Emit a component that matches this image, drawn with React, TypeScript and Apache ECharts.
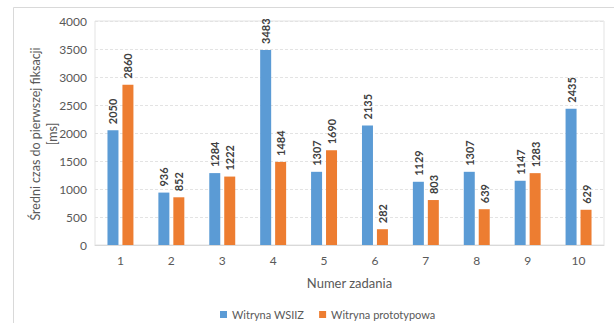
import React, { useEffect, useRef } from "react";
import * as echarts from "echarts";

const categories = ["1", "2", "3", "4", "5", "6", "7", "8", "9", "10"];
const wsiizValues = [2050, 936, 1284, 3483, 1307, 2135, 1129, 1307, 1147, 2435];
const prototypeValues = [2860, 852, 1222, 1484, 1690, 282, 803, 639, 1283, 629];
const seriesNames = ["Witryna WSIIZ", "Witryna prototypowa"];
const yTitle = "Średni czas do pierwszej fiksacji\n[ms]";
const xTitle = "Numer zadania";

const FONT = "Lato, 'Open Sans', sans-serif";

export default function App() {
  const ref = useRef<HTMLDivElement>(null);
  useEffect(() => {
    if (!ref.current) return;
    const chart = echarts.init(ref.current, undefined, { renderer: "svg" });
    const label = {
      show: true,
      position: "top",
      rotate: 90,
      align: "left",
      verticalAlign: "middle",
      distance: 6,
      fontSize: 11,
      fontWeight: "bold",
      color: "#404040",
      fontFamily: FONT,
    };
    chart.setOption({
      animation: false,
      backgroundColor: "#ffffff",
      textStyle: { fontFamily: FONT },
      graphic: [
        {
          type: "rect",
          shape: { x: 13.5, y: 7.5, width: 700, height: 400 },
          style: { fill: "none", stroke: "#d9d9d9", lineWidth: 1 },
          silent: true,
        },
        {
          type: "text",
          x: 44,
          y: 134,
          rotation: Math.PI / 2,
          style: {
            text: yTitle,
            fontSize: 12.5,
            lineHeight: 17,
            fill: "#595959",
            fontFamily: FONT,
            align: "center",
            verticalAlign: "middle",
          },
          silent: true,
        },
      ],
      grid: {
        left: 95,
        top: 21,
        right: 10,
        bottom: 78,
        show: true,
        borderColor: "#e3e3e3",
        borderWidth: 1,
      },
      legend: {
        left: 215,
        top: 304,
        itemWidth: 7,
        itemHeight: 7,
        itemGap: 15,
        icon: "rect",
        textStyle: { fontSize: 11, color: "#595959", fontFamily: FONT },
        data: seriesNames,
      },
      xAxis: {
        type: "category",
        data: categories,
        name: xTitle,
        nameLocation: "middle",
        nameGap: 31,
        nameTextStyle: { fontSize: 13, color: "#595959", fontFamily: FONT },
        axisLine: { lineStyle: { color: "#d9d9d9" } },
        axisTick: { show: false },
        axisLabel: { fontSize: 12, color: "#595959", margin: 9, fontFamily: FONT },
      },
      yAxis: {
        type: "value",
        min: 0,
        max: 4000,
        interval: 500,
        axisLabel: {
          fontSize: 12,
          color: "#595959",
          margin: 8,
          fontFamily: FONT,
          formatter: (v: number) => String(v),
        },
        splitLine: { lineStyle: { color: "#e3e3e3", type: [3, 2] } },
      },
      series: [
        {
          name: seriesNames[0],
          type: "bar",
          data: wsiizValues,
          barWidth: 11,
          barGap: "36%",
          itemStyle: { color: "#5B9BD5" },
          label,
        },
        {
          name: seriesNames[1],
          type: "bar",
          data: prototypeValues,
          barWidth: 11,
          barGap: "36%",
          itemStyle: { color: "#ED7D31" },
          label,
        },
      ],
    });
    return () => chart.dispose();
  }, []);
  return (
    <div
      ref={ref}
      style={{ position: "fixed", left: 0, top: 0, width: 614, height: 323 }}
    />
  );
}
